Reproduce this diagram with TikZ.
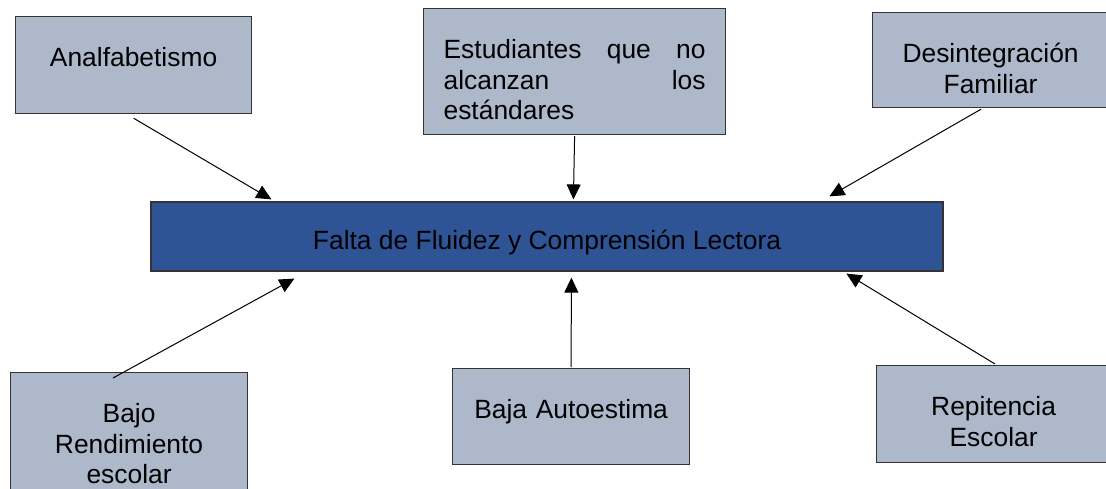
\documentclass[tikz,border=0pt]{standalone}
\usepackage{fontspec}
\setmainfont{Liberation Sans}
\usetikzlibrary{arrows.meta}
\definecolor{causegray}{HTML}{ADB9CA}
\definecolor{problemblue}{HTML}{2E5496}
\tikzset{
  cause/.style={draw=black!80, line width=1.2pt, fill=causegray, anchor=north west,
    inner sep=0pt, text height=50pt, align=center, font=\fontsize{26.4}{30.5}\selectfont},
  problem/.style={draw=black!80, line width=1.2pt, fill=problemblue, minimum width=792pt,
    minimum height=69pt, inner sep=0pt, text height=26.4pt, text depth=0pt,
    font=\fontsize{26.4}{30.5}\selectfont},
  causearrow/.style={-{Triangle[length=15pt,width=14pt]}, line width=1pt, black}
}
\begin{document}
\begin{tikzpicture}[x=1pt,y=-1pt]
  \useasboundingbox (0,0) rectangle (1106,489);
  \node[problem] (falta) at (547,236.5) {Falta de Fluidez y Comprensión Lectora};
  \node[cause, text width=236pt, text depth=47pt] (analf) at (15,16) {Analfabetismo};
  \node[cause, text width=262pt, inner xsep=20pt, text depth=76pt, align=justify] (estud) at (423,8)
    {Estudiantes que no\linebreak alcanzan los\linebreak estándares};
  \node[cause, text width=236pt, text depth=45pt] (desin) at (872,12) {Desintegración\\Familiar};
  \node[cause, text width=237pt, text depth=78pt] (bajo) at (10,372) {Bajo\\Rendimiento\\escolar};
  \node[cause, text width=237pt, text depth=46pt] (baja) at (452,368) {Baja Autoestima};
  \node[cause, text width=234pt, text depth=47pt] (repit) at (876,365) {Repitencia\\Escolar};
  \draw[causearrow] ([yshift=-4pt]analf.south) -- ([xshift=121pt,yshift=2pt]falta.north west);
  \draw[causearrow] ([yshift=-1pt]estud.south) -- ([xshift=423pt,yshift=2pt]falta.north west);
  \draw[causearrow] ([xshift=109pt,yshift=-1pt]desin.south west) -- ([xshift=679pt,yshift=5pt]falta.north west);
  \draw[causearrow] ([xshift=103pt,yshift=-6pt]bajo.north west) -- ([xshift=144pt,yshift=-7pt]falta.south west);
  \draw[causearrow] ([yshift=1pt]baja.north) -- ([xshift=421pt,yshift=-6pt]falta.south west);
  \draw[causearrow] ([xshift=119pt,yshift=1pt]repit.north west) -- ([xshift=696pt,yshift=-2pt]falta.south west);
\end{tikzpicture}
\end{document}
